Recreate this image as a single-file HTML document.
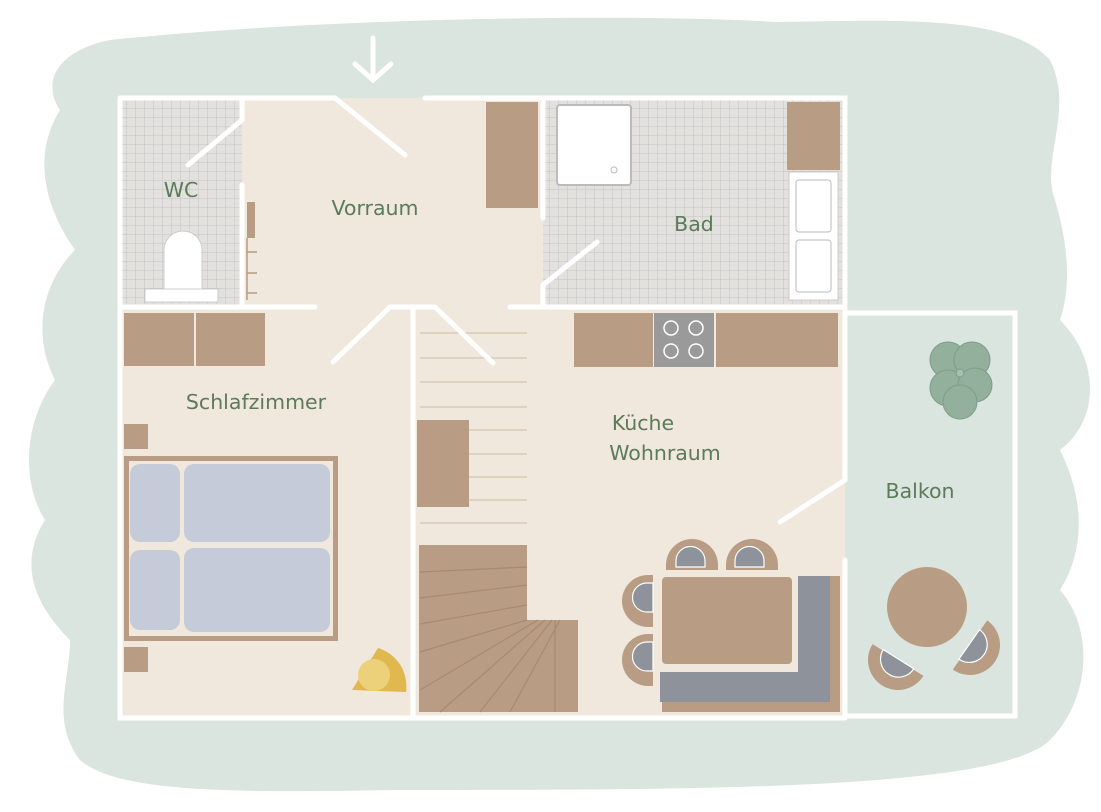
<!DOCTYPE html>
<html><head><meta charset="utf-8"><style>html,body{margin:0;padding:0;background:#fff}svg{display:block}</style></head><body>
<svg width="1101" height="812" viewBox="0 0 1101 812" xmlns="http://www.w3.org/2000/svg">
<defs>
<pattern id="tile" width="9" height="9" patternUnits="userSpaceOnUse"><rect width="9" height="9" fill="#e3e1dd"/><path d="M0 0H9M0 0V9" stroke="#c3c3c3" stroke-width="1"/></pattern>
</defs>
<path d="M110 40 C300 20 600 12 780 22 C900 20 1010 15 1050 60 C1075 110 1040 160 1055 200 C1070 250 1070 290 1060 320 C1100 360 1100 420 1060 450 C1085 500 1085 550 1060 590 C1095 630 1090 700 1050 740 C1000 790 700 790 400 790 C250 792 120 795 80 760 C50 720 70 680 70 640 C30 600 20 560 45 520 C20 480 25 420 55 380 C30 330 45 280 75 250 C40 200 35 150 60 110 C40 80 60 50 110 40 Z" fill="#dbe5df"/>
<rect x="120" y="98" width="725" height="618" fill="#f0e8dc"/>
<rect x="120" y="98" width="122" height="209" fill="url(#tile)"/>
<rect x="543" y="98" width="305" height="209" fill="url(#tile)"/>
<rect x="845" y="312" width="170" height="404" fill="#dbe5df"/>
<rect x="486" y="102" width="52" height="106" fill="#b89c84"/>
<rect x="247" y="202" width="8" height="36" fill="#b89c84"/>
<path d="M247 238V300M247 252H257M247 273H257M247 293H257" stroke="#b89c84" stroke-width="1.5"/>
<path d="M164 290V250a18 18 0 0 1 38 0V290Z" fill="#fff" stroke="#ccc"/>
<rect x="145" y="289" width="73" height="13" fill="#fff" stroke="#ccc"/>
<rect x="557" y="105" width="74" height="80" rx="3" fill="#fff" stroke="#bbb" stroke-width="2"/>
<circle cx="614" cy="170" r="3" fill="none" stroke="#bbb"/>
<rect x="787" y="102" width="53" height="68" fill="#b89c84"/>
<rect x="789" y="172" width="49" height="128" fill="#fff" stroke="#ccc"/>
<rect x="796" y="180" width="35" height="52" rx="3" fill="#fff" stroke="#bbb"/>
<rect x="796" y="240" width="35" height="52" rx="3" fill="#fff" stroke="#bbb"/>
<rect x="124" y="313" width="70" height="53" fill="#b89c84"/>
<rect x="196" y="313" width="69" height="53" fill="#b89c84"/>
<rect x="124" y="424" width="24" height="25" fill="#b89c84"/>
<rect x="124" y="647" width="24" height="25" fill="#b89c84"/>
<rect x="124" y="456" width="214" height="185" fill="#b89c84"/>
<rect x="129" y="461" width="204" height="175" fill="#f0e8dc"/>
<rect x="130" y="464" width="50" height="78" rx="10" fill="#c6cbd9"/>
<rect x="184" y="464" width="146" height="78" rx="10" fill="#c6cbd9"/>
<rect x="130" y="550" width="50" height="80" rx="10" fill="#c6cbd9"/>
<rect x="184" y="548" width="146" height="84" rx="10" fill="#c6cbd9"/>
<path d="M352 690 L378 648 a40 40 0 0 1 28 44 Z" fill="#e0b84e"/>
<circle cx="374" cy="675" r="16" fill="#ecd07a"/>
<g stroke="#e0d2c0" stroke-width="2"><path d="M420 333H527M420 358H527M420 382H527M420 407H527M420 430H527M420 454H527M420 477H527M420 500H527M420 523H527"/></g>
<rect x="417" y="420" width="52" height="87" fill="#b89c84"/>
<path d="M419 545H527V620H578V712H419Z" fill="#b89c84"/>
<g stroke="#a88a72" stroke-width="1.2"><path d="M420 572L527 567M420 598L527 585M420 624L527 605M420 652L527 620M420 690L538 620M440 712L545 620M480 712L552 620M510 712L560 620M555 712V620"/></g>
<rect x="574" y="313" width="79" height="54" fill="#b89c84"/>
<rect x="654" y="313" width="60" height="54" fill="#9a9a9a"/>
<g fill="none" stroke="#fff" stroke-width="1.5"><circle cx="671" cy="328" r="7"/><circle cx="696" cy="328" r="7"/><circle cx="671" cy="351" r="7"/><circle cx="696" cy="351" r="7"/></g>
<rect x="716" y="313" width="122" height="54" fill="#b89c84"/>
<path d="M662 576H840V712H662V672H798V576Z" fill="#b89c84"/>
<path d="M798 576H830V702H660V672H798Z" fill="#8e929a"/>
<rect x="662" y="577" width="130" height="87" rx="4" fill="#b89c84"/>
<g fill="#b89c84">
<path d="M666 570V565a26 26 0 0 1 52 0V570Z"/><path d="M726 570V565a26 26 0 0 1 52 0V570Z"/>
<path d="M653 575H648a26 26 0 0 0 0 52H653Z"/><path d="M653 634H648a26 26 0 0 0 0 52H653Z"/>
</g>
<g fill="#8e929a" stroke="#fff" stroke-width="1.2">
<path d="M676 567V561a14 14 0 0 1 29 0V567Z"/><path d="M735 567V561a14 14 0 0 1 29 0V567Z"/>
<path d="M653 583H647a14 14 0 0 0 0 29H653Z"/><path d="M653 642H647a14 14 0 0 0 0 29H653Z"/>
</g>
<g fill="#93b09d" stroke="#7e9c88"><circle cx="948" cy="360" r="18"/><circle cx="972" cy="360" r="18"/><circle cx="948" cy="388" r="18"/><circle cx="975" cy="385" r="17"/><circle cx="960" cy="402" r="17"/><circle cx="960" cy="373" r="4" fill="#a6bfae"/></g>
<circle cx="927" cy="607" r="40" fill="#b89c84"/>
<g transform="translate(898 660) rotate(32)"><path d="M-30 0A30 30 0 0 0 30 0Z" fill="#b89c84"/><path d="M-18 -1A18 18 0 0 0 18 -1Z" fill="#8e929a" stroke="#fff" stroke-width="1.2"/></g>
<g transform="translate(970 645) rotate(-55)"><path d="M-30 0A30 30 0 0 0 30 0Z" fill="#b89c84"/><path d="M-18 -1A18 18 0 0 0 18 -1Z" fill="#8e929a" stroke="#fff" stroke-width="1.2"/></g>
<g stroke="#fff" stroke-width="5" fill="none" stroke-linecap="round">
<path d="M120 98H335M425 98H845V310M120 98V718H845M845 313H1015V716H845M845 313V480M845 560V716"/>
<path d="M335 98L405 155"/>
<path d="M242 98V120L188 165M242 185V305"/>
<path d="M120 307H315M390 307H435M510 307H845M390 307L333 362M435 307L493 363M413 307V716"/>
<path d="M543 98V218M543 305V285L597 242"/>
<path d="M845 480L780 522"/>
<path d="M373 38V80M355 64L373 80L391 64"/>
</g>
<g font-family="DejaVu Sans, Liberation Sans, sans-serif" font-size="20.5" fill="#5b7b5b" text-anchor="middle">
<text x="181" y="197">WC</text>
<text x="375" y="215">Vorraum</text>
<text x="694" y="231">Bad</text>
<text x="256" y="409">Schlafzimmer</text>
<text x="643" y="430">Küche</text>
<text x="665" y="460">Wohnraum</text>
<text x="920" y="498">Balkon</text>
</g>
</svg>
</body></html>
